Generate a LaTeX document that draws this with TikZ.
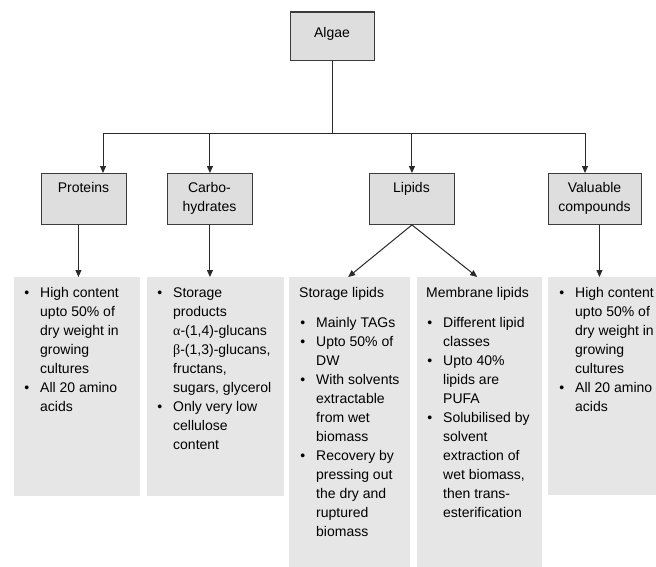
\documentclass[tikz,border=0pt]{standalone}
\usepackage{fontspec}
\setmainfont{Liberation Sans}
\newfontfamily\grkfont{Liberation Serif}
\usetikzlibrary{arrows.meta}
\definecolor{linec}{HTML}{2A2A2A}
\definecolor{boxline}{HTML}{3C3C3C}
\definecolor{boxfill}{HTML}{DEDEDE}
\definecolor{panelfill}{HTML}{E6E6E6}
\newcommand{\bul}{\leavevmode\llap{\textbullet\hspace{11pt}}}
\newcommand{\ctr}[1]{\parbox[t]{100pt}{\centering #1}}
\tikzset{
  catbox/.style={draw=boxline, fill=boxfill, line width=0.9pt, anchor=north west, inner sep=0pt},
  panel/.style={fill=panelfill, draw=none, anchor=north west, inner sep=0pt},
  txt/.style={anchor=base west, inner sep=0pt, text=black},
  ctxt/.style={anchor=base, inner sep=0pt, text=black},
  ln/.style={draw=linec, line width=1pt},
  arr/.style={draw=linec, line width=1pt, -{Triangle[length=7pt,width=6pt]}}
}
\begin{document}
\begin{tikzpicture}[x=1pt, y=-1pt, font=\fontsize{14}{19}\selectfont]
\useasboundingbox (0,0) rectangle (656,566);
\clip (0,0) rectangle (656,566);
\fill[white] (0,0) rectangle (656,566);

% top box
\node[catbox, minimum width=84pt, minimum height=48pt] (algae) at (290,12) {};
\draw[draw=boxline, line width=1.8pt] (algae.north west) -- (algae.north east);
\node[ctxt] (algaet) at (332,37) {Algae};

% category boxes
\node[catbox, minimum width=85pt, minimum height=51pt] (prot) at (41,173) {};
\node[catbox, minimum width=85pt, minimum height=51pt] (carb) at (167,173) {};
\node[catbox, minimum width=85pt, minimum height=51pt] (lip) at (369,173) {};
\node[catbox, minimum width=93pt, minimum height=51pt] (val) at (548,173) {};
\node[ctxt] (prott) at (83.5,192) {Proteins};
\node[ctxt] (carbt) at (209.5,192) {\ctr{Carbo-\\hydrates}};
\node[ctxt] (lipt) at (411.5,192) {Lipids};
\node[ctxt] (valt) at (594.5,192) {\ctr{Valuable\\compounds}};

% panels
\node[panel, minimum width=126pt, minimum height=219pt] (pp) at (14,277) {};
\node[panel, minimum width=137pt, minimum height=219pt] (cp) at (147,277) {};
\node[panel, minimum width=121pt, minimum height=292pt] (sp) at (289,277) {};
\node[panel, minimum width=125pt, minimum height=292pt] (mp) at (417,277) {};
\node[panel, minimum width=126pt, minimum height=218pt] (vp) at (548,277) {};

% panel texts
\node[txt] (ppt) at (40,297) {\parbox[t]{200pt}{%
\bul High content\\
upto 50\% of\\
dry weight in\\
growing\\
cultures\\
\bul All 20 amino\\
acids}};

\node[txt] (cpt) at (173,297) {\parbox[t]{200pt}{%
\bul Storage\\
products\\
{\grkfont α}-(1,4)-glucans\\
{\grkfont β}-(1,3)-glucans,\\
fructans,\\
sugars, glycerol\\
\bul Only very low\\
cellulose\\
content}};

\node[txt] (sph) at (299,297) {Storage lipids};
\node[txt] (spt) at (316,327) {\parbox[t]{200pt}{%
\bul Mainly TAGs\\
\bul Upto 50\% of\\
DW\\
\bul With solvents\\
extractable\\
from wet\\
biomass\\
\bul Recovery by\\
pressing out\\
the dry and\\
ruptured\\
biomass}};

\node[txt] (mph) at (426,297) {Membrane lipids};
\node[txt] (mpt) at (443,327) {\parbox[t]{200pt}{%
\bul Different lipid\\
classes\\
\bul Upto 40\%\\
lipids are\\
PUFA\\
\bul Solubilised by\\
solvent\\
extraction of\\
wet biomass,\\
then trans-\\
esterification}};

\node[txt] (vpt) at (575,297) {\parbox[t]{200pt}{%
\bul High content\\
upto 50\% of\\
dry weight in\\
growing\\
cultures\\
\bul All 20 amino\\
acids}};

% connectors
\coordinate (busL) at (103,133);
\coordinate (busR) at (585,133);
\draw[ln] (algae.south) -- (algae.south |- busL);
\draw[ln] (busL) -- (busR);
\draw[arr] (busL) -- (busL |- prot.north);
\draw[arr] (carb.north |- busL) -- (carb.north);
\draw[arr] (lip.north |- busL) -- (lip.north);
\draw[arr] (busR) -- (busR |- val.north);

\draw[arr] ([xshift=-5.5pt]prot.south) -- ([xshift=-5.5pt]prot.south |- pp.north);
\draw[arr] (carb.south) -- (carb.south |- cp.north);
\draw[arr] (lip.south) -- ([xshift=-1.5pt]sp.north);
\draw[arr] (lip.south) -- ([xshift=-2.5pt]mp.north);
\draw[arr] ([xshift=4.5pt]val.south) -- ([xshift=4.5pt]val.south |- vp.north);
\end{tikzpicture}
\end{document}
